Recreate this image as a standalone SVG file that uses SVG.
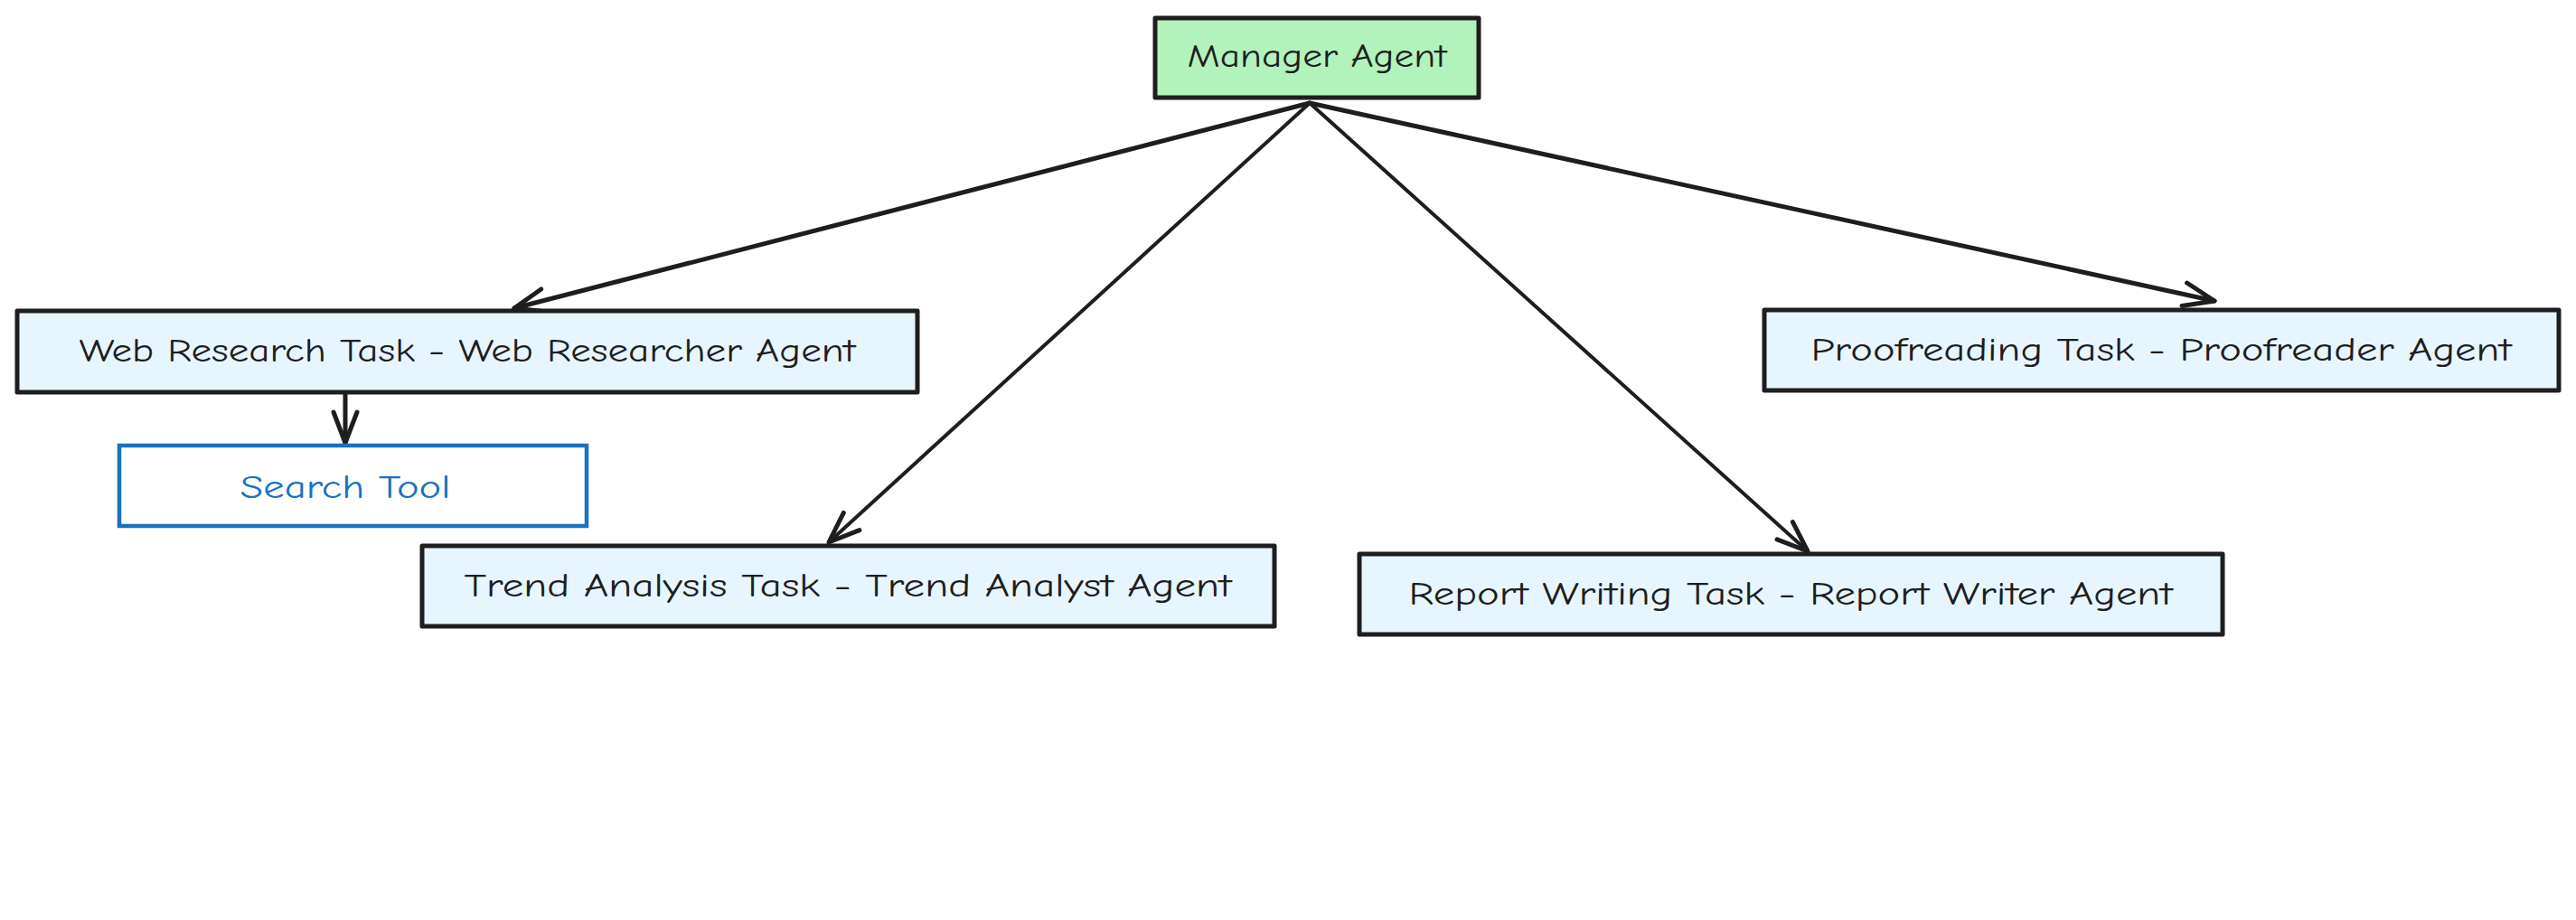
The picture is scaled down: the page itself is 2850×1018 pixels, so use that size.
<svg xmlns="http://www.w3.org/2000/svg" width="2850" height="1018" viewBox="0 0 2850 1018">
<defs>
<style>
.box{stroke:#1e1e1e;stroke-width:5;stroke-linejoin:round}
.task{fill:#e7f5ff}
.lbl{font-family:"Comic Neue","Liberation Sans",sans-serif;font-size:36px;fill:#1e1e1e;text-anchor:middle;dominant-baseline:central}
.edge{fill:none;stroke:#1e1e1e;stroke-width:5;stroke-linecap:round;marker-end:url(#arr)}
</style>
<marker id="arr" markerUnits="userSpaceOnUse" viewBox="-40 -20 44 40" refX="0" refY="0" markerWidth="44" markerHeight="40" orient="auto">
<path d="M-34,-13 L0,0 L-34,13" fill="none" stroke="#1e1e1e" stroke-width="5" stroke-linecap="round" stroke-linejoin="round"/>
</marker>
</defs>
<rect width="2850" height="1018" fill="#ffffff"/>
<g id="connectors">
<path class="edge" d="M1449,114 L569,341"/>
<path class="edge" d="M1449,114 L917,600" style="stroke-width:4"/>
<path class="edge" d="M1449,114 L2000,610" style="stroke-width:4"/>
<path class="edge" d="M1449,114 L2450,333"/>
<path class="edge" d="M382,436 L382,490"/>
</g>
<g id="manager">
<rect class="box" x="1278" y="20" width="358" height="88" fill="#b2f2bb"/>
<text class="lbl" x="1457" y="62" textLength="287" lengthAdjust="spacingAndGlyphs">Manager Agent</text>
</g>
<g id="web-research">
<rect class="box task" x="19" y="344" width="996" height="90"/>
<text class="lbl" x="517" y="388" textLength="859" lengthAdjust="spacingAndGlyphs">Web Research Task - Web Researcher Agent</text>
</g>
<g id="search-tool">
<rect x="132" y="493" width="517" height="89" fill="#ffffff" stroke="#1971c2" stroke-width="4.5"/>
<text class="lbl" x="382" y="539" style="fill:#1971c2" textLength="233" lengthAdjust="spacingAndGlyphs">Search Tool</text>
</g>
<g id="trend-analysis">
<rect class="box task" x="467" y="604" width="943" height="89"/>
<text class="lbl" x="938" y="648" textLength="849" lengthAdjust="spacingAndGlyphs">Trend Analysis Task - Trend Analyst Agent</text>
</g>
<g id="report-writing">
<rect class="box task" x="1504" y="613" width="955" height="89"/>
<text class="lbl" x="1981" y="657" textLength="845" lengthAdjust="spacingAndGlyphs">Report Writing Task - Report Writer Agent</text>
</g>
<g id="proofreading">
<rect class="box task" x="1952" y="343" width="879" height="89"/>
<text class="lbl" x="2391" y="387" textLength="775" lengthAdjust="spacingAndGlyphs">Proofreading Task - Proofreader Agent</text>
</g>
</svg>
